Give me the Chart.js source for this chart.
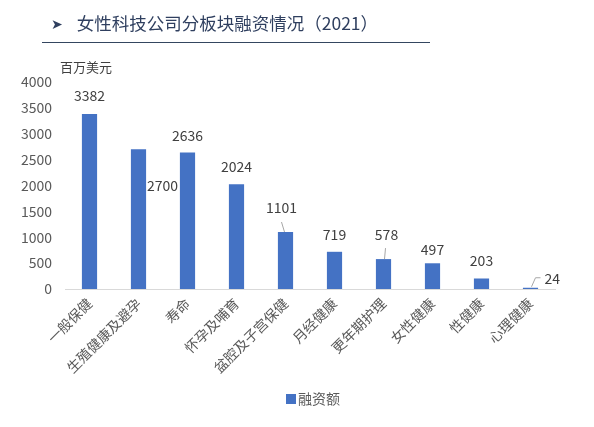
<!DOCTYPE html>
<html>
<head>
<meta charset="utf-8">
<script src="https://cdn.jsdelivr.net/npm/chart.js@4/dist/chart.umd.min.js"></script>
<style>
    body { margin: 0; background: #fff; font-family: "Noto Sans CJK SC", sans-serif; }
    #wrap { position: relative; width: 594px; height: 427px; }
    #chart { position: absolute; left: 0; top: 0; }
    .title { position: absolute; left: 51px; top: 10px; font-size: 17.5px; color: #2f3f5f; white-space: nowrap; }
    .title .arrow { font-family: "DejaVu Sans", sans-serif; font-size: 14px; margin-right: 14px; position: relative; top: -1px; }
    .rule { position: absolute; left: 42px; top: 42px; width: 388px; height: 1px; background: #344660; }
</style>
</head>
<body>
<div id="wrap">
    <canvas id="chart" width="594" height="427"></canvas>
    <div class="title"><span class="arrow">&#10148;</span>女性科技公司分板块融资情况（2021）</div>
    <div class="rule"></div>
</div>
<script>
const categories = ['一般保健', '生殖健康及避孕', '寿命', '怀孕及哺育', '盆腔及子宫保健', '月经健康', '更年期护理', '女性健康', '性健康', '心理健康'];
const funding = [3382, 2700, 2636, 2024, 1101, 719, 578, 497, 203, 24];
const yTicks = [0, 500, 1000, 1500, 2000, 2500, 3000, 3500, 4000];
const seriesName = '融资额';
const unitLabel = '百万美元';

const barColor = '#4472c4';
const fontFamily = '"Noto Sans CJK SC", sans-serif';

// label placement relative to bar top (dx right, dy down), leader line where the original has one
const labelPlacement = [
    { dx: 0, dy: -18 },
    { dx: 24, dy: 36 },
    { dx: 0, dy: -17 },
    { dx: 0, dy: -18 },
    { dx: -4, dy: -24, leader: [[-1, 0], [-4, -10]] },
    { dx: 0, dy: -17 },
    { dx: 3, dy: -24, leader: [[1, 0], [2, -11]] },
    { dx: 0, dy: -14 },
    { dx: 0, dy: -18 },
    { dx: 21, dy: -9, leader: [[1, -1], [5, -10], [10, -10]], align: 'left', dxText: 14 }
];

const dataLabels = {
    id: 'dataLabels',
    afterDatasetsDraw(chart) {
        const ctx = chart.ctx;
        const meta = chart.getDatasetMeta(0);
        ctx.save();
        ctx.font = '14px ' + fontFamily;
        ctx.fillStyle = '#404040';
        ctx.textBaseline = 'middle';
        meta.data.forEach((bar, i) => {
            const p = labelPlacement[i] || { dx: 0, dy: -18 };
            if (p.leader) {
                ctx.strokeStyle = '#a6a6a6';
                ctx.lineWidth = 1;
                ctx.beginPath();
                p.leader.forEach((pt, k) => {
                    const lx = bar.x + pt[0], ly = bar.y + pt[1];
                    if (k === 0) ctx.moveTo(lx, ly); else ctx.lineTo(lx, ly);
                });
                ctx.stroke();
            }
            if (p.align === 'left') {
                ctx.textAlign = 'left';
                ctx.fillText(funding[i], bar.x + p.dxText, bar.y + p.dy);
            } else {
                ctx.textAlign = 'center';
                ctx.fillText(funding[i], bar.x + p.dx, bar.y + p.dy);
            }
        });
        ctx.restore();
    }
};

const extras = {
    id: 'extras',
    afterDraw(chart) {
        const ctx = chart.ctx;
        ctx.save();
        // unit above y axis
        ctx.font = '13px ' + fontFamily;
        ctx.fillStyle = '#404040';
        ctx.textAlign = 'left';
        ctx.textBaseline = 'middle';
        ctx.fillText(unitLabel, 60, 67);
        // legend
        const ds = chart.data.datasets[0];
        ctx.fillStyle = ds.backgroundColor;
        ctx.fillRect(286, 394, 10, 10);
        ctx.font = '14px ' + fontFamily;
        ctx.fillStyle = '#595959';
        ctx.fillText(ds.label, 298, 399);
        ctx.restore();
    }
};

new Chart(document.getElementById('chart'), {
    type: 'bar',
    data: {
        labels: categories,
        datasets: [{
            label: seriesName,
            data: funding,
            backgroundColor: barColor,
            categoryPercentage: 1,
            barPercentage: 0.31
        }]
    },
    options: {
        responsive: false,
        animation: false,
        layout: { padding: { top: 82, left: 0, right: 39, bottom: 0 } },
        scales: {
            x: {
                grid: { display: false, drawTicks: false },
                border: { display: true, color: '#d9d9d9' },
                ticks: {
                    minRotation: 45,
                    maxRotation: 45,
                    autoSkip: false,
                    padding: 6,
                    color: '#595959',
                    font: { family: fontFamily, size: 14 }
                },
                afterFit(scale) { scale.height = 138; }
            },
            y: {
                min: 0,
                max: 4000,
                afterBuildTicks(scale) { scale.ticks = yTicks.map(v => ({ value: v })); },
                grid: { display: false, drawTicks: false },
                border: { display: false },
                ticks: {
                    padding: 13,
                    color: '#595959',
                    font: { family: fontFamily, size: 14 },
                    callback: v => String(v)
                },
                afterFit(scale) { scale.width = 65; }
            }
        },
        plugins: {
            legend: { display: false },
            tooltip: { enabled: false }
        }
    },
    plugins: [dataLabels, extras]
});
</script>
</body>
</html>
